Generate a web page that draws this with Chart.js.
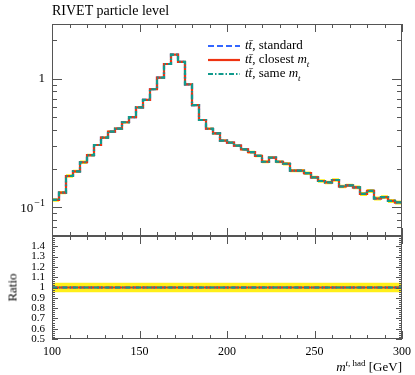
<!DOCTYPE html>
<html>
<head>
<meta charset="utf-8">
<script src="https://cdn.jsdelivr.net/npm/chart.js@4.4.1/dist/chart.umd.min.js"></script>
<style>
body { margin: 0; background: #fff; font-family: "Liberation Serif", "DejaVu Serif", serif; }
#wrap { position: relative; width: 415px; height: 375px; }
canvas { position: absolute; left: 0; top: 0; }
.t { position: absolute; white-space: nowrap; color: #000; line-height: 1; }
.leg { position: absolute; left: 208px; font-size: 13px; white-space: nowrap; line-height: 1; }
.leg svg { vertical-align: middle; margin-right: 5px; }
</style>
</head>
<body>
<div id="wrap">
  <canvas id="mainChart" width="415" height="375"></canvas>
  <canvas id="ratioChart" width="415" height="375"></canvas>

  <div class="t" style="left:52px; top:4px; font-size:14px;">RIVET particle level</div>

  <div class="leg" style="top:38px;"><svg width="32" height="6"><line x1="0" y1="3" x2="32" y2="3" stroke="#3366ff" stroke-width="2.2" stroke-dasharray="6,3"/></svg><i>tt&#772;</i>, standard</div>
  <div class="leg" style="top:52px;"><svg width="32" height="6"><line x1="0" y1="3" x2="32" y2="3" stroke="#ee3311" stroke-width="2.2"/></svg><i>tt&#772;</i>, closest <i>m<sub style="font-size:9px">t</sub></i></div>
  <div class="leg" style="top:66px;"><svg width="32" height="6"><line x1="0" y1="3" x2="32" y2="3" stroke="#109a8c" stroke-width="2.2" stroke-dasharray="5,2,1.5,2"/></svg><i>tt&#772;</i>, same <i>m<sub style="font-size:9px">t</sub></i></div>

  <div class="t" style="left:-8px; top:281px; width:40px; text-align:center; font-size:13px; transform:rotate(-90deg);">Ratio</div>
  <div class="t" style="right:13px; top:359px; font-size:13px;"><i>m</i><sup style="font-size:9px"><i>t</i>, had</sup> [GeV]</div>
</div>

<script>
// bin edges in GeV (4 GeV bins)
const binEdges = [100, 104, 108, 112, 116, 120, 124, 128, 132, 136, 140, 144, 148, 152, 156, 160,
    164, 168, 172, 176, 180, 184, 188, 192, 196, 200, 204, 208, 212, 216, 220, 224, 228, 232,
    236, 240, 244, 248, 252, 256, 260, 264, 268, 272, 276, 280, 284, 288, 292, 296, 300];

// the three predictions lie on top of each other in the picture
const standard = [0.114, 0.130, 0.175, 0.190, 0.224, 0.254, 0.305, 0.348, 0.387, 0.409,
    0.458, 0.502, 0.597, 0.683, 0.827, 1.02, 1.30, 1.54, 1.35, 0.904,
    0.622, 0.477, 0.408, 0.376, 0.330, 0.318, 0.301, 0.282, 0.268, 0.251,
    0.226, 0.243, 0.226, 0.218, 0.193, 0.193, 0.184, 0.171, 0.160, 0.156,
    0.163, 0.145, 0.148, 0.143, 0.127, 0.134, 0.117, 0.120, 0.112, 0.109];
const closestMt = [0.114, 0.130, 0.175, 0.190, 0.224, 0.254, 0.305, 0.348, 0.387, 0.409,
    0.458, 0.502, 0.597, 0.683, 0.827, 1.02, 1.30, 1.54, 1.35, 0.904,
    0.622, 0.477, 0.408, 0.376, 0.330, 0.318, 0.301, 0.282, 0.268, 0.251,
    0.226, 0.243, 0.226, 0.218, 0.193, 0.193, 0.184, 0.171, 0.160, 0.156,
    0.163, 0.145, 0.148, 0.143, 0.127, 0.134, 0.117, 0.120, 0.112, 0.109];
const sameMt = [0.114, 0.130, 0.175, 0.190, 0.224, 0.254, 0.305, 0.348, 0.387, 0.409,
    0.458, 0.502, 0.597, 0.683, 0.827, 1.02, 1.30, 1.54, 1.35, 0.904,
    0.622, 0.477, 0.408, 0.376, 0.330, 0.318, 0.301, 0.282, 0.268, 0.251,
    0.226, 0.243, 0.226, 0.218, 0.193, 0.193, 0.184, 0.171, 0.160, 0.156,
    0.163, 0.145, 0.148, 0.143, 0.127, 0.134, 0.117, 0.120, 0.112, 0.109];

// relative uncertainty of the yellow band (main panel)
const relUnc = [0.03, 0.03, 0.03, 0.03, 0.03, 0.025, 0.02, 0.02, 0.02, 0.02,
    0.02, 0.015, 0.015, 0.01, 0.01, 0.01, 0.01, 0.01, 0.01, 0.01,
    0.015, 0.015, 0.02, 0.02, 0.02, 0.02, 0.02, 0.02, 0.025, 0.025,
    0.025, 0.025, 0.025, 0.03, 0.03, 0.03, 0.03, 0.03, 0.03, 0.03,
    0.03, 0.03, 0.03, 0.035, 0.035, 0.035, 0.035, 0.035, 0.035, 0.035];
// ratio band half width
const ratioUnc = 0.045;

const xTickLabels = [100, 150, 200, 250, 300];
const mainYTickLabels = [0.1, 1];
const ratioYTickLabels = [0.5, 0.6, 0.7, 0.8, 0.9, 1, 1.1, 1.2, 1.3, 1.4];

// histogram outline: one point per lower bin edge plus the last upper edge,
// 'before' steps keep each value flat until the next edge
function steps(vals) {
    const pts = vals.map((v, i) => ({ x: binEdges[i], y: v }));
    pts.push({ x: binEdges[binEdges.length - 1], y: vals[vals.length - 1] });
    return pts;
}

const ratioStd = standard.map((v, i) => v / closestMt[i]);
const ratioClosest = closestMt.map((v, i) => v / closestMt[i]);
const ratioSame = sameMt.map((v, i) => v / closestMt[i]);

function line(ctx, x1, y1, x2, y2) {
    ctx.beginPath();
    ctx.moveTo(x1, y1);
    ctx.lineTo(x2, y2);
    ctx.stroke();
}

// frame with inward ticks on all four sides, plus tick labels
const frameTicks = {
    id: 'frameTicks',
    afterDraw(chart, args, o) {
        const ctx = chart.ctx;
        const a = chart.chartArea;
        const xs = chart.scales.x, ys = chart.scales.y;
        ctx.save();
        ctx.strokeStyle = '#555';
        ctx.lineWidth = 1;
        o.xTicks.forEach(([v, len]) => {
            const px = Math.round(xs.getPixelForValue(v)) + 0.5;
            line(ctx, px, a.top, px, a.top + len);
            line(ctx, px, a.bottom, px, a.bottom - len);
        });
        o.yTicks.forEach(([v, len]) => {
            const py = Math.round(ys.getPixelForValue(v)) + 0.5;
            line(ctx, a.left, py, a.left + len, py);
            line(ctx, a.right, py, a.right - len, py);
        });
        ctx.strokeRect(Math.round(a.left) + 0.5, Math.round(a.top) + 0.5,
            Math.round(a.right - a.left) - 1, Math.round(a.bottom - a.top) - 1);

        ctx.fillStyle = '#000';
        ctx.textBaseline = 'middle';
        ctx.textAlign = 'right';
        ctx.font = o.yFont;
        o.yLabels.forEach(v => {
            const py = ys.getPixelForValue(v);
            if (v === 0.1) {
                ctx.font = '10px "Liberation Serif", serif';
                ctx.fillText('\u22121', a.left - 7, py - 4);
                const w = ctx.measureText('\u22121').width;
                ctx.font = o.yFont;
                ctx.fillText('10', a.left - 8 - w, py + 1);
            } else {
                ctx.fillText(String(v), a.left - 7, py);
            }
        });
        if (o.xLabels) {
            ctx.textAlign = 'center';
            ctx.textBaseline = 'top';
            ctx.font = o.xFont;
            o.xLabels.forEach(v => {
                ctx.fillText(String(v), xs.getPixelForValue(v), a.bottom + 7);
            });
        }
        ctx.restore();
    }
};

const xTicks = [];
for (let v = 100; v <= 300; v += 10) xTicks.push([v, v % 50 === 0 ? 8 : 4]);

const mainYTicks = [];
[0.01, 0.1, 1].forEach(d => {
    for (let k = 1; k <= 9; k++) {
        const v = d * k;
        if (v >= 0.06 && v <= 2.6) mainYTicks.push([v, k === 1 ? 10 : 5]);
    }
});

const ratioYTicks = [];
for (let k = 25; k <= 75; k++) {
    const v = k * 0.02;
    ratioYTicks.push([v, k % 5 === 0 ? 6 : 3]);
}

const blue = '#3366ff', red = '#ee3311', teal = '#109a8c', band = '#ffef1a';

function histSet(data, color, dash, order) {
    return {
        data: steps(data), stepped: 'before', borderColor: color, borderWidth: 2.2,
        borderDash: dash, pointRadius: 0, fill: false, order: order
    };
}

function bandSet(data, fill) {
    return {
        data: steps(data), stepped: 'before', borderWidth: 0, pointRadius: 0,
        backgroundColor: band, fill: fill, order: 5
    };
}

new Chart(document.getElementById('mainChart'), {
    type: 'line',
    data: {
        datasets: [
            bandSet(closestMt.map((v, i) => v * (1 + relUnc[i])), '+1'),
            bandSet(closestMt.map((v, i) => v * (1 - relUnc[i])), false),
            histSet(standard, blue, [6, 3], 3),
            histSet(closestMt, red, [], 2),
            histSet(sameMt, teal, [5, 2, 1.5, 2], 1)
        ]
    },
    options: {
        responsive: false,
        animation: false,
        layout: { padding: { left: 52, right: 13, top: 24, bottom: 139 } },
        scales: {
            x: { type: 'linear', min: 100, max: 300, display: false },
            y: { type: 'logarithmic', min: 0.0598, max: 2.66, display: false }
        },
        plugins: {
            legend: { display: false },
            tooltip: { enabled: false },
            frameTicks: {
                xTicks: xTicks, yTicks: mainYTicks, yLabels: mainYTickLabels,
                yFont: '13px "Liberation Serif", serif'
            }
        }
    },
    plugins: [frameTicks]
});

new Chart(document.getElementById('ratioChart'), {
    type: 'line',
    data: {
        datasets: [
            bandSet(ratioClosest.map(v => v + ratioUnc), '+1'),
            bandSet(ratioClosest.map(v => v - ratioUnc), false),
            histSet(ratioStd, blue, [6, 3], 3),
            histSet(ratioClosest, red, [], 2),
            histSet(ratioSame, teal, [5, 2, 1.5, 2], 1)
        ]
    },
    options: {
        responsive: false,
        animation: false,
        layout: { padding: { left: 52, right: 13, top: 236, bottom: 36 } },
        scales: {
            x: { type: 'linear', min: 100, max: 300, display: false },
            y: { type: 'linear', min: 0.5, max: 1.5, display: false }
        },
        plugins: {
            legend: { display: false },
            tooltip: { enabled: false },
            frameTicks: {
                xTicks: xTicks, yTicks: ratioYTicks, yLabels: ratioYTickLabels,
                yFont: '11px "Liberation Serif", serif',
                xLabels: xTickLabels, xFont: '12px "Liberation Serif", serif'
            }
        }
    },
    plugins: [frameTicks]
});
</script>
</body>
</html>
